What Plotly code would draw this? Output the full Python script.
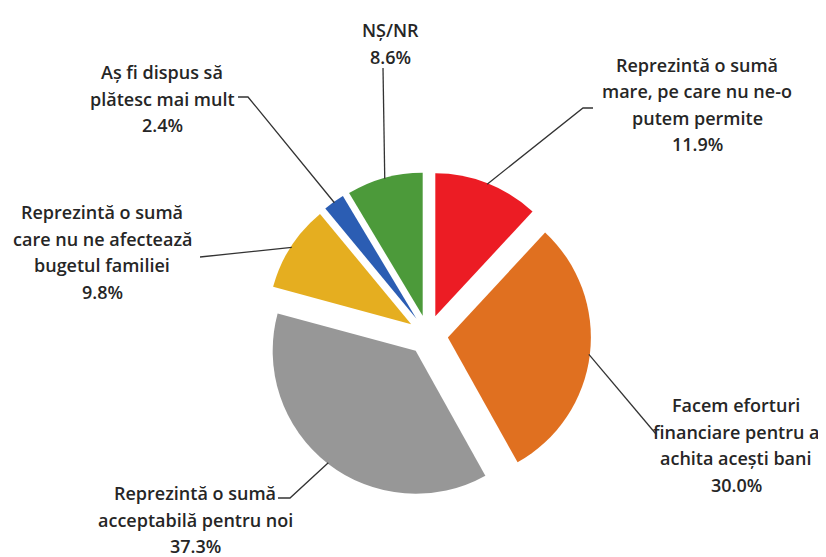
import math
import plotly.graph_objects as go

# ---- data ----
labels = [
    "Reprezintă o sumă mare, pe care nu ne-o putem permite",
    "Facem eforturi financiare pentru a achita acești bani",
    "Reprezintă o sumă acceptabilă pentru noi",
    "Reprezintă o sumă care nu ne afectează bugetul familiei",
    "Aș fi dispus să plătesc mai mult",
    "NȘ/NR",
]
label_lines = [
    ["Reprezintă o sumă", "mare, pe care nu ne-o", "putem permite"],
    ["Facem eforturi", "financiare pentru a", "achita acești bani"],
    ["Reprezintă o sumă", "acceptabilă pentru noi"],
    ["Reprezintă o sumă", "care nu ne afectează", "bugetul familiei"],
    ["Aș fi dispus să", "plătesc mai mult"],
    ["NȘ/NR"],
]
values = [11.9, 30.0, 37.3, 9.8, 2.4, 8.6]
colors = ["#EC1C24", "#E07020", "#979797", "#E5AE20", "#2B5DB3", "#4C9A3A"]

# ---- layout geometry (window pixels; page body has an 8px margin) ----
OFF = 8
W, H = 826 - OFF, 557 - OFF
CX, CY, R, PULL = 428, 335, 143, 0.14
half = R * (1 + PULL)

# label block: (center x, first line y), leader elbow points after the arc point
label_pos = [(697, 65), (736, 405), (195, 493), (102, 212), (162, 72), (390, 30)]
leader_tail = [
    [(583, 108), (593, 108)],
    [(656, 434)],
    [(290, 498), (278, 498)],
    [(200, 257)],
    [(248, 97), (238, 97)],
    [(383, 68)],
]
LINE_H = 26.5
FONT = dict(family="Open Sans", size=18, color="#262626", weight=600)


def px(x):
    return (x - OFF) / W


def py(y):
    return 1 - (y - OFF) / H


fig = go.Figure(
    go.Pie(
        labels=labels,
        values=values,
        sort=False,
        direction="clockwise",
        rotation=0,
        pull=[PULL] * len(values),
        marker=dict(colors=colors, line=dict(width=0)),
        textinfo="none",
        hoverinfo="label+percent",
        showlegend=False,
        domain=dict(
            x=[px(CX - half), px(CX + half)],
            y=[py(CY + half), py(CY - half)],
        ),
    )
)

annotations = []
shapes = []
total = sum(values)
cum = 0.0
for i, v in enumerate(values):
    theta = math.radians((cum + v / 2) / total * 360)
    cum += v
    dx, dy = math.sin(theta), -math.cos(theta)
    sx, sy = CX + dx * (half - 1), CY + dy * (half - 1)
    pts = [(sx, sy)] + leader_tail[i]
    path = "M " + " L ".join(f"{px(a):.5f},{py(b):.5f}" for a, b in pts)
    shapes.append(dict(type="path", xref="paper", yref="paper", path=path,
                       line=dict(color="#333333", width=1.3)))
    lines = label_lines[i] + [f"{v:.1f}%"]
    x0, y0 = label_pos[i]
    for k, t in enumerate(lines):
        annotations.append(dict(
            text=t, x=px(x0), y=py(y0 + k * LINE_H), xref="paper", yref="paper",
            xanchor="center", yanchor="middle", showarrow=False, font=FONT,
        ))

fig.update_layout(
    width=W, height=H,
    margin=dict(l=0, r=0, t=0, b=0),
    paper_bgcolor="white", plot_bgcolor="white",
    annotations=annotations, shapes=shapes,
)

fig.write_html("out.html")
